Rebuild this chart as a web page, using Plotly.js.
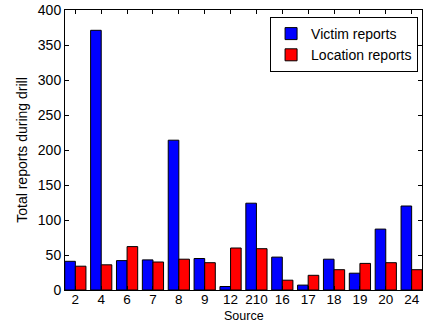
<!DOCTYPE html>
<html>
<head>
<meta charset="utf-8">
<script src="https://cdn.plot.ly/plotly-3.0.1.min.js"></script>
<style>html,body{margin:0;padding:0;background:#fff;}#chart{width:424px;height:322px;}</style>
</head>
<body>
<div id="chart"></div>
<script>
var sources = ["2","4","6","7","8","9","12","210","16","17","18","19","20","24"];
var victimReports = [41, 371, 42, 43, 214, 45, 5, 124, 47, 7, 44, 24, 87, 120];
var locationReports = [34, 36, 62, 40, 44, 39, 60, 59, 14, 21, 29, 38, 39, 29];
var yTicks = [0, 50, 100, 150, 200, 250, 300, 350, 400];

var fam = "Liberation Sans, Arial, sans-serif";

var traces = [
  {type: "bar", name: "Victim reports", x: sources, y: victimReports,
   marker: {color: "#0000ff", line: {color: "#000", width: 1}}},
  {type: "bar", name: "Location reports", x: sources, y: locationReports,
   marker: {color: "#ff0000", line: {color: "#000", width: 1}}}
];

var layout = {
  width: 424, height: 322,
  margin: {l: 65, r: 2, t: 10, b: 32},
  paper_bgcolor: "#fff", plot_bgcolor: "#fff",
  font: {family: fam, size: 14, color: "#000"},
  barmode: "group", bargap: 0.18, bargroupgap: 0,
  showlegend: true,
  legend: {x: 0.989, xanchor: "right", y: 0.975, yanchor: "top",
           bgcolor: "#fff", bordercolor: "#000", borderwidth: 1,
           font: {family: fam, size: 14, color: "#000"},
           tracegroupgap: 0},
  xaxis: {type: "category", range: [-0.4, 13.4], tickmode: "array", tickvals: sources, ticktext: sources,
          ticks: "inside", ticklen: 4, tickcolor: "#000", showline: true, linecolor: "#000", linewidth: 1,
          mirror: "ticks", showgrid: false, zeroline: false, tickfont: {family: fam, size: 13.5},
          ticklabelstandoff: -3},
  yaxis: {range: [0, 400], tickmode: "array", tickvals: yTicks, ticktext: yTicks.map(String),
          ticks: "inside", ticklen: 4, tickcolor: "#000", showline: true, linecolor: "#000", linewidth: 1,
          mirror: "ticks", showgrid: false, zeroline: false, tickfont: {family: fam, size: 14},
          title: {text: "Total reports during drill", font: {family: fam, size: 14}, standoff: 6}},
  annotations: [
    {text: "Source", xref: "paper", yref: "paper", x: 0.5, y: -0.064, xanchor: "center", yanchor: "top",
     showarrow: false, font: {family: fam, size: 12.5, color: "#000"}, borderpad: 0}
  ]
};

Plotly.newPlot("chart", traces, layout, {displayModeBar: false, staticPlot: true});
</script>
</body>
</html>
